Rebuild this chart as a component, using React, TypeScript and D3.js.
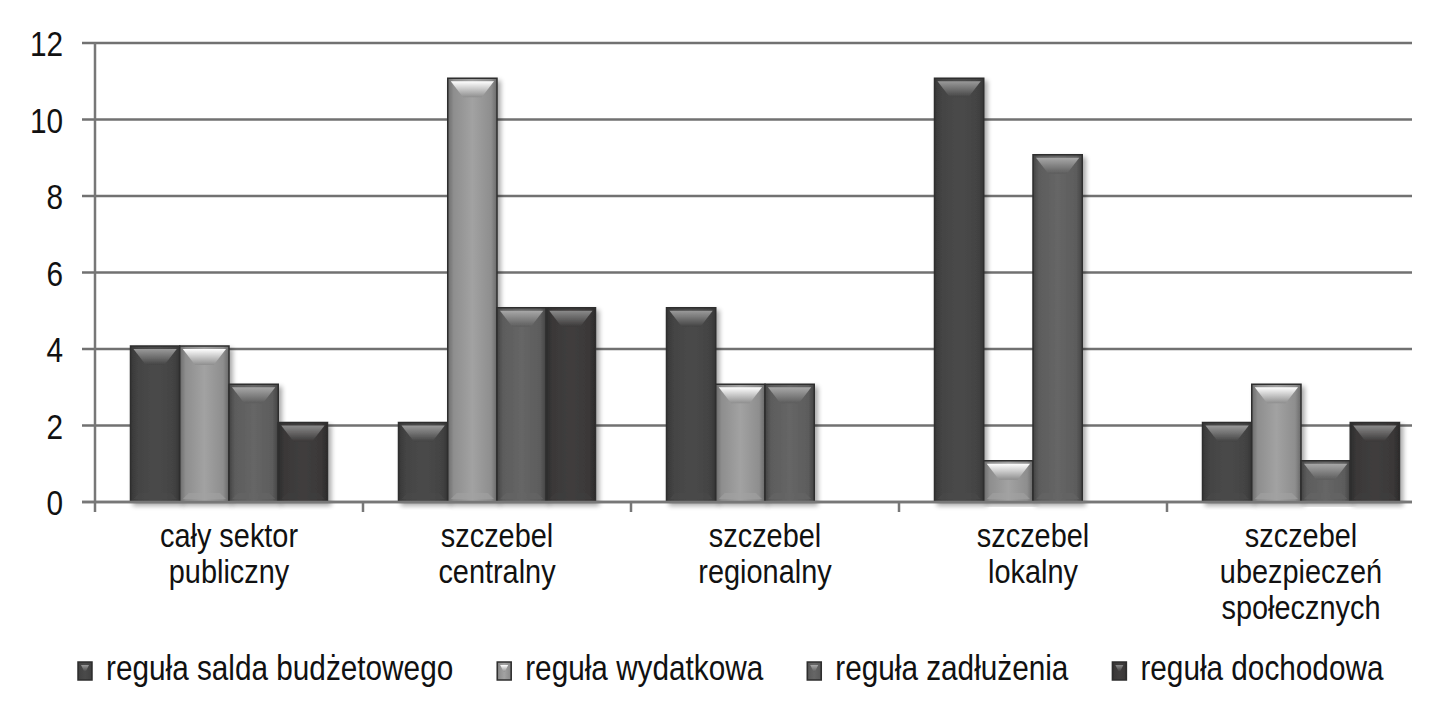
import React, { useEffect, useRef } from "react";
import * as d3 from "d3";

const categories: string[][] = [
  ["cały sektor", "publiczny"],
  ["szczebel", "centralny"],
  ["szczebel", "regionalny"],
  ["szczebel", "lokalny"],
  ["szczebel", "ubezpieczeń", "społecznych"],
];
const seriesNames = [
  "reguła salda budżetowego",
  "reguła wydatkowa",
  "reguła zadłużenia",
  "reguła dochodowa",
];
const saldo = [4, 2, 5, 11, 2];
const wydatkowa = [4, 11, 3, 1, 3];
const zadluzenia = [3, 5, 3, 9, 1];
const dochodowa = [2, 5, 0, 0, 2];
const yTicks = [0, 2, 4, 6, 8, 10, 12];

const seriesValues = [saldo, wydatkowa, zadluzenia, dochodowa];
const seriesColors = [
  { base: "#434343", edge: "#353535", mid: "#4a4a4a", top: "#9a9a9a" },
  { base: "#8e8e8e", edge: "#6a6a6a", mid: "#a2a2a2", top: "#ffffff" },
  { base: "#5c5c5c", edge: "#444444", mid: "#666666", top: "#a8a8a8" },
  { base: "#3a3838", edge: "#2c2b2b", mid: "#403e3e", top: "#8a8a8a" },
];

const W = 1441;
const H = 717;
const FONT = "'Liberation Sans', Arial, sans-serif";
const SX = 0.85;

export default function App() {
  const ref = useRef<SVGSVGElement | null>(null);

  useEffect(() => {
    const svg = d3.select(ref.current);
    svg.selectAll("*").remove();

    const left = 95;
    const right = 1435;
    const gridRight = 1412;
    const top = 43;
    const bottom = 502;

    const y = d3.scaleLinear().domain([0, 12]).range([bottom, top]);
    const x0 = d3
      .scaleBand<number>()
      .domain(d3.range(categories.length))
      .range([left, right]);
    const groupW = 197;
    const x1 = d3
      .scaleBand<number>()
      .domain(d3.range(seriesNames.length))
      .range([0, groupW]);

    const defs = svg.append("defs");
    seriesColors.forEach((c, i) => {
      const g = defs
        .append("linearGradient")
        .attr("id", `side${i}`)
        .attr("x1", "0")
        .attr("x2", "1")
        .attr("y1", "0")
        .attr("y2", "0");
      g.append("stop").attr("offset", "0").attr("stop-color", c.edge);
      g.append("stop").attr("offset", "0.12").attr("stop-color", c.base);
      g.append("stop").attr("offset", "0.5").attr("stop-color", c.mid);
      g.append("stop").attr("offset", "0.88").attr("stop-color", c.base);
      g.append("stop").attr("offset", "1").attr("stop-color", c.edge);
      const t = defs
        .append("linearGradient")
        .attr("id", `top${i}`)
        .attr("x1", "0")
        .attr("x2", "0")
        .attr("y1", "0")
        .attr("y2", "1");
      t.append("stop").attr("offset", "0").attr("stop-color", c.top);
      t.append("stop").attr("offset", "1").attr("stop-color", c.base);
    });
    const f = defs
      .append("filter")
      .attr("id", "shadow")
      .attr("x", "-20%")
      .attr("y", "-5%")
      .attr("width", "140%")
      .attr("height", "115%");
    f.append("feGaussianBlur")
      .attr("in", "SourceAlpha")
      .attr("stdDeviation", 2.5)
      .attr("result", "b");
    f.append("feOffset").attr("dx", 3).attr("dy", 3).attr("result", "o");
    f.append("feComponentTransfer")
      .attr("in", "o")
      .attr("result", "s")
      .append("feFuncA")
      .attr("type", "linear")
      .attr("slope", 0.35);
    const fm = f.append("feMerge");
    fm.append("feMergeNode").attr("in", "s");
    fm.append("feMergeNode").attr("in", "SourceGraphic");

    // gridlines
    svg
      .append("g")
      .selectAll("line")
      .data(yTicks)
      .join("line")
      .attr("x1", 82)
      .attr("x2", gridRight)
      .attr("y1", (d) => y(d))
      .attr("y2", (d) => y(d))
      .attr("stroke", "#717171")
      .attr("stroke-width", 2.5);

    // y axis
    svg
      .append("line")
      .attr("x1", left)
      .attr("x2", left)
      .attr("y1", top)
      .attr("y2", bottom + 10)
      .attr("stroke", "#777")
      .attr("stroke-width", 2.5);

    // x ticks
    svg
      .append("g")
      .selectAll("line")
      .data(d3.range(1, categories.length))
      .join("line")
      .attr("x1", (i) => x0(i)!)
      .attr("x2", (i) => x0(i)!)
      .attr("y1", bottom)
      .attr("y2", bottom + 10)
      .attr("stroke", "#777")
      .attr("stroke-width", 2.5);

    // y labels
    svg
      .append("g")
      .selectAll("text")
      .data(yTicks)
      .join("text")
      .attr("transform", (d) => `translate(63,${y(d) + 13}) scale(${SX},1)`)
      .attr("text-anchor", "end")
      .attr("font-family", FONT)
      .attr("font-size", 35)
      .attr("fill", "#111")
      .text((d) => String(d));

    // bars
    const drawBar = (
      g: d3.Selection<SVGGElement, unknown, null, undefined>,
      bx: number,
      by: number,
      bw: number,
      bh: number,
      si: number,
      bevel: number
    ) => {
      const c = seriesColors[si];
      g.append("rect")
        .attr("x", bx)
        .attr("y", by)
        .attr("width", bw)
        .attr("height", bh)
        .attr("fill", `url(#side${si})`)
        .attr("stroke", "#2e2e2e")
        .attr("stroke-width", 1.5);
      const inset = 3;
      const bvl = Math.min(bevel, bh / 2);
      g.append("path")
        .attr(
          "d",
          `M${bx + inset},${by + inset} L${bx + bw - inset},${by + inset} L${
            bx + bw - inset - bw * 0.25
          },${by + inset + bvl} L${bx + inset + bw * 0.25},${by + inset + bvl} Z`
        )
        .attr("fill", `url(#top${si})`);
      // bottom subtle bevel
      if (bh > 20) {
        g.append("path")
          .attr(
            "d",
            `M${bx + inset},${by + bh - inset} L${bx + bw - inset},${
              by + bh - inset
            } L${bx + bw - inset - 6},${by + bh - inset - 6} L${
              bx + inset + 6
            },${by + bh - inset - 6} Z`
          )
          .attr("fill", c.mid)
          .attr("opacity", 0.6);
      }
    };

    const barsG = svg.append("g");
    categories.forEach((_, ci) => {
      const gx = x0(ci)! + (x0.bandwidth() - groupW) / 2;
      seriesValues.forEach((vals, si) => {
        const v = vals[ci];
        if (!v) return;
        const bx = gx + x1(si)!;
        const by = y(v) - 3;
        const bh = y(0) - by;
        const g = barsG.append("g").attr("filter", "url(#shadow)");
        drawBar(g, bx, by, x1.bandwidth(), bh, si, 16);
      });
    });

    // x axis line on top of bars
    svg
      .append("line")
      .attr("x1", 82)
      .attr("x2", gridRight)
      .attr("y1", bottom)
      .attr("y2", bottom)
      .attr("stroke", "#777")
      .attr("stroke-width", 2.5);

    // category labels
    const catG = svg.append("g");
    categories.forEach((lines, ci) => {
      const cx = x0(ci)! + x0.bandwidth() / 2;
      lines.forEach((ln, li) => {
        catG
          .append("text")
          .attr("transform", `translate(${cx},${547 + li * 36}) scale(${SX},1)`)
          .attr("text-anchor", "middle")
          .attr("font-family", FONT)
          .attr("font-size", 34)
          .attr("fill", "#111")
          .text(ln);
      });
    });

    // legend
    const legG = svg.append("g");
    let lx = 78;
    const ly = 680;
    seriesNames.forEach((name, si) => {
      const mg = legG.append("g");
      drawBar(mg, lx, ly - 18, 14, 18, si, 7);
      const t = legG
        .append("text")
        .attr("transform", `translate(${lx + 28},${ly}) scale(${SX},1)`)
        .attr("font-family", FONT)
        .attr("font-size", 35)
        .attr("fill", "#111")
        .text(name);
      const len = (t.node() as SVGTextElement).getComputedTextLength() * SX;
      lx = lx + 28 + len + 44;
    });
  }, []);

  return (
    <svg
      ref={ref}
      width={W}
      height={H}
      style={{ position: "absolute", left: 0, top: 0, background: "#fff" }}
    />
  );
}
